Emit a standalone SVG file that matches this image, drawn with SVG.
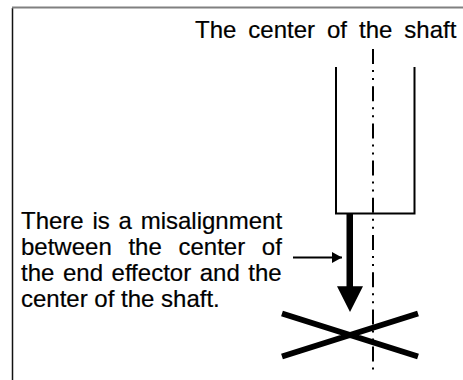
<svg xmlns="http://www.w3.org/2000/svg" width="463" height="380" viewBox="0 0 463 380">
<style>
text{font-family:"Liberation Sans",Arial,sans-serif;font-size:24px;fill:#000;stroke:#000;stroke-width:.2}
.s{stroke:#000;fill:none;stroke-width:2}
.x{stroke:#000;fill:none;stroke-width:6}
</style>
<defs><marker id="a" markerUnits="userSpaceOnUse" markerWidth="10" markerHeight="11" refX="10" refY="5.5" orient="auto"><path d="M0 0L10 5.5L0 11Z" fill="#000"/></marker></defs>
<rect width="463" height="380" fill="#fff"/>
<path d="M12.5 380V8" fill="none" stroke="#111" stroke-width="1.5"/>
<path d="M12 7.5H463" fill="none" stroke="#808080" stroke-width="2"/>
<g id="labels">
<text x="195" y="38" style="word-spacing:5.3px">The center of the shaft</text>
<text x="21" y="229" style="word-spacing:2.1px">There is a misalignment</text>
<text x="21" y="255" style="word-spacing:10px">between the center of</text>
<text x="21" y="281" style="word-spacing:1.9px">the end effector and the</text>
<text x="21" y="307">center of the shaft.</text>
</g>
<g id="shaft"><path class="s" d="M336 67V213.5H414.5V67"/></g>
<g id="effector">
<path d="M346.5 214H353V286.3H363L350 312L337 286.3H346.5Z" fill="#000"/>
<path class="x" d="M282 313.5L418 356.5M282 356.5L418 313.5"/>
</g>
<g id="connectors">
<path d="M373 49V372" fill="none" stroke="#000" stroke-width="2" stroke-dasharray="15 6 2 6 2 6.2"/>
<path d="M293 257.5H342" fill="none" stroke="#000" stroke-width="2" marker-end="url(#a)"/>
</g>
</svg>
